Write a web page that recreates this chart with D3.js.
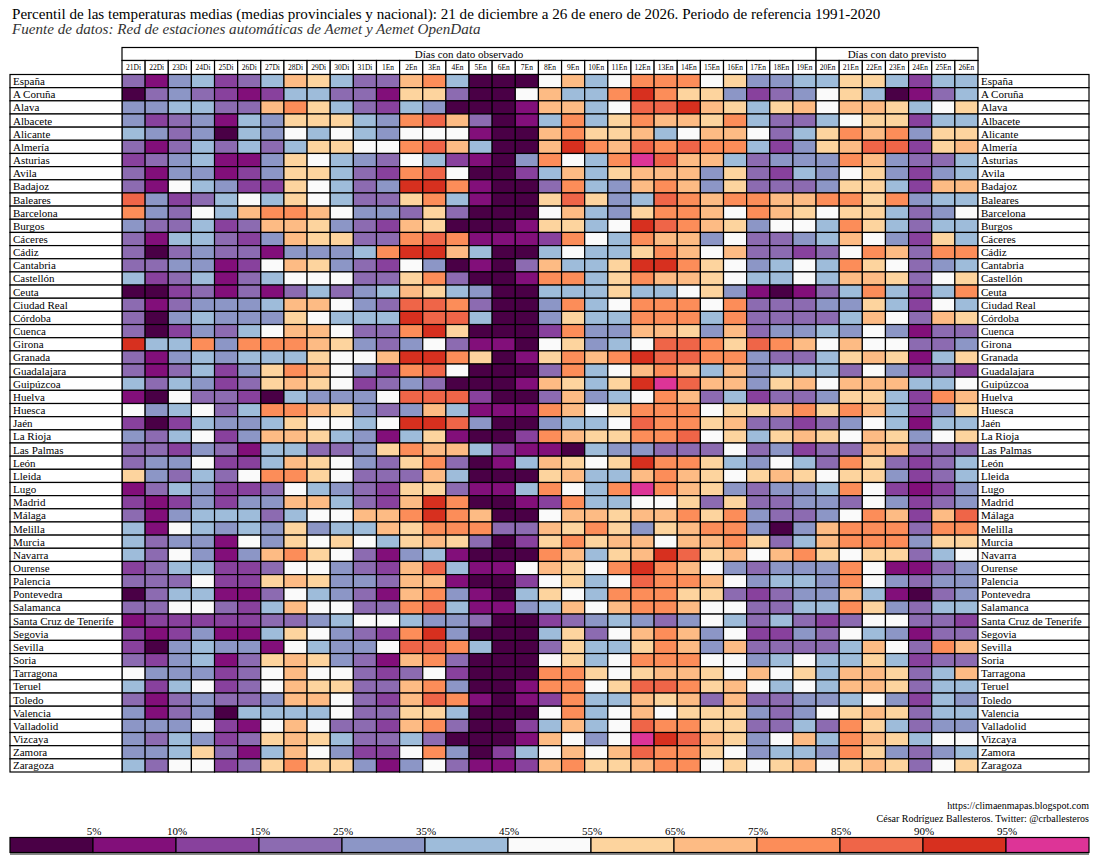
<!DOCTYPE html>
<html>
<head>
<meta charset="utf-8">
<script src="https://cdn.jsdelivr.net/npm/d3@7"></script>
<style>
  body { margin: 0; background: #fff; }
  svg text { font-family: "Liberation Serif", "Times New Roman", serif; }
</style>
</head>
<body>
<svg id="chart" width="1099" height="860"></svg>
<script>
var dias = ["21Di", "22Di", "23Di", "24Di", "25Di", "26Di", "27Di", "28Di", "29Di", "30Di", "31Di",
  "1En", "2En", "3En", "4En", "5En", "6En", "7En", "8En", "9En", "10En", "11En", "12En", "13En",
  "14En", "15En", "16En", "17En", "18En", "19En", "20En", "21En", "22En", "23En", "24En", "25En", "26En"];
var nObservados = 30; // 21Di .. 19En, el resto es previsto

var provincias = ["España", "A Coruña", "Alava", "Albacete", "Alicante", "Almería", "Asturias", "Avila",
  "Badajoz", "Baleares", "Barcelona", "Burgos", "Cáceres", "Cádiz", "Cantabria", "Castellón", "Ceuta",
  "Ciudad Real", "Córdoba", "Cuenca", "Girona", "Granada", "Guadalajara", "Guipúzcoa", "Huelva", "Huesca",
  "Jaén", "La Rioja", "Las Palmas", "León", "Lleida", "Lugo", "Madrid", "Málaga", "Melilla", "Murcia",
  "Navarra", "Ourense", "Palencia", "Pontevedra", "Salamanca", "Santa Cruz de Tenerife", "Segovia",
  "Sevilla", "Soria", "Tarragona", "Teruel", "Toledo", "Valencia", "Valladolid", "Vizcaya", "Zamora",
  "Zaragoza"];

// clase de percentil por día (0 = <5% ... c = >95%), bloques: 21Di-2En | 3En-14En | 15En-26En
var clases = [
  "3145235875338 950006856999 674455775255",
  "0343212553317 730068559b97 742346750135",
  "4455338975325 400018856aab 875786887567",
  "4234154777549 a83015957988 795335677255",
  "5434054656546 661008977856 886357989477",
  "3135353577669 a85008b98a9a 9952478aa278",
  "2345114765436 521049659ca8 853444984335",
  "3144124775329 a60025857888 473254674245",
  "316542276534b b91003954898 473334775288",
  "a423565765337 951007a745a9 899889979455",
  "9436589986443 730006854799 869876775346",
  "4335238874328 700017756ba9 874665975355",
  "3155324877339 a91112965988 463345864275",
  "303433144459b b85005655798 683323698399",
  "3344126874326 401038557bb9 764565976345",
  "5235135666337 930019957988 765565887367",
  "0023131353458 754005557556 741013595259",
  "313444588643a a93004956999 693334475265",
  "304544476555b aa5004755999 593333586387",
  "3024356886339 b70002944887 483445464133",
  "b559499987434 6311067456aa 97a986866334",
  "314545557668b b97017989baa 994335787157",
  "3135247986429 a60003956898 584555364232",
  "5354237876234 300018757bca 884786888556",
  "106332054446a aa2003845698 352334775298",
  "6456359987434 851119867999 677897985247",
  "202544576656b ba4004556a99 783323465155",
  "4356248875415 71002987799a 675787687467",
  "3324315533479 885211054433 363423388333",
  "3446225876437 930158767b99 754653973235",
  "7435369976333 850007855898 767876774235",
  "1354223654327 731159659c98 743445962124",
  "2124244885328 b90012955667 373344364234",
  "3145553566889 b98006887889 79433469828a",
  "5165454745587 999338797478 994048999399",
  "5344164767657 873027978868 897358999477",
  "5364148976314 5100098578ba 786897677356",
  "2355223664328 a51168769b98 643444961134",
  "3336227874438 810026756a99 864554964344",
  "0355113654318 941057659997 732344851034",
  "3366325866339 a51145868998 663355974355",
  "1222223345665 443002345434 653532366332",
  "2124115764329 b40005736898 462243654133",
  "204544165446a a95003755798 483333586398",
  "3245137874318 930006756999 664565575233",
  "6444236866323 620009976788 768675887358",
  "5256236877338 940019967aa9 786565887355",
  "3134334886328 a91012955878 383344564254",
  "4134055556337 750006956867 774346787355",
  "4446216863328 930025856a99 773353975344",
  "4354237875335 300018646cba 874685987566",
  "4457315864226 940256868a99 764554974345",
  "5366237977414 631128977899 676786787367"
];

var cortes = ["5%", "10%", "15%", "25%", "35%", "45%", "55%", "65%", "75%", "85%", "90%", "95%"];
var colores = ["#4a0046", "#820f7a", "#88419d", "#8c6bb1", "#8c96c6", "#9ebcda", "#fafafa",
  "#fdd49e", "#fdbb84", "#fc8d59", "#ef6548", "#d7301f", "#dd3497"];

var svg = d3.select("#chart");

var x = d3.scaleBand().domain(dias).range([122, 978]);
var y = d3.scaleBand().domain(provincias).range([74.5, 772]);
var color = d3.scaleOrdinal().domain(d3.range(colores.length)).range(colores);

var celdas = [];
provincias.forEach(function (p, i) {
  var s = clases[i].replace(/ /g, "");
  dias.forEach(function (d, j) {
    celdas.push({ provincia: p, dia: d, clase: parseInt(s[j], 16) });
  });
});

// titulo
svg.append("text").attr("x", 12).attr("y", 19).style("font-size", "15.1px")
  .text("Percentil de las temperaturas medias (medias provinciales y nacional): 21 de diciembre a 26 de enero de 2026. Periodo de referencia 1991-2020");
svg.append("text").attr("x", 12).attr("y", 34).style("font-size", "15.1px")
  .style("font-style", "italic").style("fill", "#333")
  .text("Fuente de datos: Red de estaciones automáticas de Aemet y Aemet OpenData");

// cabecera de grupos
var grupos = [
  { nombre: "Días con dato observado", desde: dias[0], n: nObservados },
  { nombre: "Días con dato previsto", desde: dias[nObservados], n: dias.length - nObservados }
];
var cab = svg.append("g").selectAll("g").data(grupos).enter().append("g");
cab.append("rect")
  .attr("x", function (d) { return x(d.desde); })
  .attr("y", 47.5)
  .attr("width", function (d) { return x.bandwidth() * d.n; })
  .attr("height", 13)
  .style("fill", "#fff").style("stroke", "#000").style("stroke-width", 1.2);
cab.append("text")
  .attr("x", function (d) { return x(d.desde) + x.bandwidth() * d.n / 2; })
  .attr("y", 57.5)
  .style("text-anchor", "middle").style("font-size", "11px")
  .text(function (d) { return d.nombre; });

// cabecera de dias
var col = svg.append("g").selectAll("g").data(dias).enter().append("g");
col.append("rect")
  .attr("x", function (d) { return x(d); })
  .attr("y", 60.5)
  .attr("width", x.bandwidth())
  .attr("height", 14)
  .style("fill", "#fff").style("stroke", "#000").style("stroke-width", 1.2);
col.append("text")
  .attr("x", function (d) { return x(d) + x.bandwidth() / 2; })
  .attr("y", 70)
  .style("text-anchor", "middle").style("font-size", "7.5px")
  .text(function (d) { return d; });

// celdas
svg.append("g").selectAll("rect").data(celdas).enter().append("rect")
  .attr("x", function (d) { return x(d.dia); })
  .attr("y", function (d) { return y(d.provincia); })
  .attr("width", x.bandwidth())
  .attr("height", y.bandwidth())
  .style("fill", function (d) { return color(d.clase); })
  .style("stroke", "#000").style("stroke-width", 1.2);

// etiquetas de filas a ambos lados
[{ x0: 10, w: 112 }, { x0: 978, w: 111 }].forEach(function (lado) {
  var fila = svg.append("g").selectAll("g").data(provincias).enter().append("g");
  fila.append("rect")
    .attr("x", lado.x0)
    .attr("y", function (d) { return y(d); })
    .attr("width", lado.w)
    .attr("height", y.bandwidth())
    .style("fill", "#fff").style("stroke", "#000").style("stroke-width", 1.2);
  fila.append("text")
    .attr("x", lado.x0 + 3)
    .attr("y", function (d) { return y(d) + y.bandwidth() / 2 + 4; })
    .style("font-size", "11px")
    .text(function (d) { return d; });
});

// creditos
svg.append("text").attr("x", 1089).attr("y", 809).style("text-anchor", "end").style("font-size", "10px")
  .text("https://climaenmapas.blogspot.com");
svg.append("text").attr("x", 1089).attr("y", 822).style("text-anchor", "end").style("font-size", "10px")
  .text("César Rodríguez Ballesteros. Twitter: @crballesteros");

// leyenda
var lx = d3.scaleBand().domain(d3.range(colores.length)).range([10, 1089]);
svg.append("rect").attr("x", 10).attr("y", 851).attr("width", 1079).attr("height", 4).style("fill", "#888");
svg.append("g").selectAll("rect").data(d3.range(colores.length)).enter().append("rect")
  .attr("x", function (d) { return lx(d); })
  .attr("y", 837.5)
  .attr("width", lx.bandwidth())
  .attr("height", 15)
  .style("fill", function (d) { return color(d); })
  .style("stroke", "#000").style("stroke-width", 1.2);
svg.append("g").selectAll("text").data(cortes).enter().append("text")
  .attr("x", function (d, i) { return lx(i + 1) + 1; })
  .attr("y", 835)
  .style("text-anchor", "middle").style("font-size", "11px")
  .text(function (d) { return d; });
</script>
</body>
</html>
